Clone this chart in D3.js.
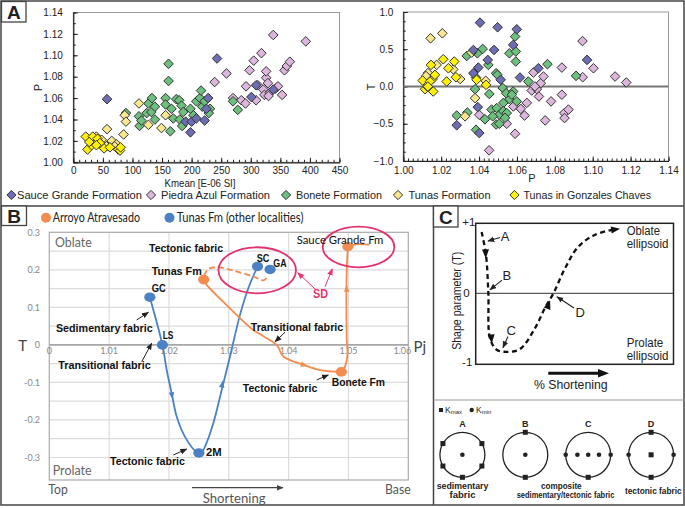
<!DOCTYPE html>
<html>
<head>
<meta charset="utf-8">
<script src="https://cdn.jsdelivr.net/npm/d3@7/dist/d3.min.js"></script>
<style>
html,body{margin:0;padding:0;background:#fff;}
svg{display:block;}
</style>
</head>
<body>
<svg id="fig" width="685" height="508"></svg>
<script>
// ================= PANEL A DATA =================
const formationNames = ["Sauce Grande Formation","Piedra Azul Formation","Bonete Formation","Tunas Formation","Tunas in Gonzales Chaves"];
const formationColors = ["#6d6db3","#dcb6dc","#6cbf7d","#f7e88f","#fff200"];
const kmeanTicks = [0,50,100,150,200,250,300,350,400,450];
const pTicks = [1.00,1.02,1.04,1.06,1.08,1.10,1.12,1.14];
const pTicksX = [1.00,1.02,1.04,1.06,1.08,1.10,1.12,1.14];
const tTicks = [-1.0,-0.5,0.0,0.5,1.0];

// Kmean [E-06 SI] vs P
const sauceKP = [[57,1.059],[243,1.097],[190,1.038],[198,1.028],[200,1.038],[208,1.041],[222,1.039],[228,1.060],[225,1.050],[309,1.072],[301,1.061],[338,1.068]];
const piedraKP = [[239,1.075],[259,1.083],[270,1.060],[284,1.058],[291,1.055],[292,1.071],[298,1.086],[305,1.095],[318,1.102],[309,1.058],[321,1.068],[323,1.063],[326,1.079],[326,1.085],[329,1.074],[332,1.065],[338,1.119],[342,1.069],[346,1.071],[353,1.063],[357,1.086],[361,1.090],[366,1.094],[393,1.113],[312,1.072],[330,1.062]];
const boneteKP = [[89,1.046],[111,1.043],[112,1.034],[115,1.039],[124,1.046],[127,1.055],[132,1.047],[133,1.060],[138,1.052],[138,1.040],[156,1.060],[156,1.054],[161,1.092],[161,1.076],[164,1.029],[166,1.050],[174,1.059],[169,1.041],[180,1.040],[179,1.058],[183,1.053],[186,1.047],[184,1.034],[198,1.050],[203,1.044],[208,1.057],[214,1.060],[216,1.067],[218,1.052],[222,1.057],[231,1.050],[229,1.046],[270,1.057],[278,1.049]];
const tunasKP = [[39,1.024],[48,1.021],[56,1.015],[65,1.020],[73,1.017],[70,1.015],[57,1.031],[85,1.026],[87,1.044],[89,1.038],[111,1.055],[127,1.035],[149,1.032],[156,1.044],[30,1.022],[43,1.019]];
const gcKP = [[21,1.024],[24,1.012],[31,1.016],[34,1.021],[33,1.024],[41,1.022],[45,1.018],[52,1.013],[62,1.014],[76,1.012],[79,1.011],[39,1.016],[27,1.019],[80,1.014]];

// P vs T
const sauceT = [[1.0405,0.857],[1.0498,0.795],[1.0599,0.768],[1.058,0.558],[1.0479,0.49],[1.037,0.49],[1.0446,0.357],[1.0396,0.254],[1.037,0.179],[1.0514,0.09],[1.0616,0.12],[1.0713,0.245],[1.097,0.357],[1.0393,-0.277],[1.0282,-0.52],[1.0401,-0.625]];
const piedraT = [[1.0453,-0.857],[1.0546,-0.50],[1.059,-0.634],[1.0581,-0.268],[1.062,-0.30],[1.064,-0.39],[1.0652,-0.22],[1.0678,-0.054],[1.0687,0.187],[1.0705,-0.036],[1.0716,-0.134],[1.0726,0.045],[1.074,0.134],[1.0749,-0.455],[1.078,-0.20],[1.0837,0.254],[1.0837,-0.11],[1.085,-0.357],[1.0851,-0.424],[1.0872,-0.31],[1.0946,0.61],[1.0947,0.125],[1.1004,0.245],[1.1118,0.134],[1.1177,0.054],[1.0401,-0.38],[1.0695,0.0]];
const boneteT = [[1.0335,0.41],[1.0391,0.446],[1.0419,0.504],[1.0384,0.12],[1.0379,-0.036],[1.0449,0.29],[1.0454,-0.1],[1.049,0.178],[1.0497,0.156],[1.0525,-0.02],[1.056,0.446],[1.059,0.67],[1.0594,0.47],[1.0594,0.335],[1.056,-0.17],[1.0543,-0.09],[1.058,-0.067],[1.0599,-0.20],[1.0573,-0.11],[1.0528,-0.22],[1.0466,-0.31],[1.0493,-0.29],[1.0507,-0.38],[1.0528,-0.33],[1.0546,-0.357],[1.0537,-0.42],[1.049,-0.51],[1.0507,-0.5],[1.0472,-0.40],[1.0431,-0.44],[1.0338,-0.35],[1.0282,-0.39],[1.0384,-0.58],[1.066,0.067],[1.0761,0.30],[1.0912,0.143]];
const tunasT = [[1.0144,0.647],[1.0206,0.714],[1.013,0.18],[1.0176,0.29],[1.0264,0.23],[1.030,0.10],[1.0326,-0.40],[1.0379,-0.156],[1.0435,0.076],[1.0361,0.455],[1.012,0.14],[1.0155,0.1]];
const gcT = [[1.0102,0.08],[1.0115,-0.036],[1.013,-0.009],[1.0141,0.067],[1.0146,0.29],[1.0167,0.156],[1.0158,-0.067],[1.0211,0.366],[1.0229,0.067],[1.0238,0.245],[1.0269,0.335],[1.0278,0.125],[1.0387,0.09],[1.0437,0.022],[1.0130,0.0]];

// ================= PANEL B DATA =================
const pjTicks = [1.00,1.01,1.02,1.03,1.04,1.05,1.06];
const pjTickLabels = ["0","1.01","1.02","1.03","1.04","1.05","1.06"];
const tbTicks = [0.3,0.2,0.1,0,-0.1,-0.2,-0.3];
const tbTickLabels = ["0.3","0.2","0.1","0","-0.1","-0.2","-0.3"];
const seriesB = ["Arroyo Atravesado","Tunas Fm (other localities)"];
const colorsB = ["#f28c4f","#4a82c3"];
const orangeSites = [[1.0258,0.174],[1.0499,0.262],[1.0488,-0.072]];
const blueSites = [[1.0168,0.127],[1.0189,0.0],[1.0250,-0.288],[1.0348,0.209],[1.0369,0.201]];
const blueCurve = [[1.0168,0.127],[1.0189,0.0],[1.01962,-0.067],[1.02045,-0.129],[1.02129,-0.191],[1.02268,-0.245],[1.02463,-0.285],[1.0255,-0.285],[1.02602,-0.271],[1.02741,-0.209],[1.02881,-0.120],[1.0302,-0.031],[1.03187,0.08],[1.03326,0.151],[1.0348,0.209]];
const orangeCurve1 = [[1.0258,0.174],[1.02631,0.160],[1.0302,0.0975],[1.0341,0.0397],[1.0380,0.0],[1.03911,-0.031],[1.04257,-0.0536],[1.04524,-0.067],[1.0488,-0.072]];
const orangeCurve2 = [[1.0488,-0.072],[1.04914,-0.067],[1.0498,-0.031],[1.0497,0.0176],[1.0497,0.195],[1.0499,0.262]];
const orangeTail = [[1.0499,0.262],[1.0513,0.268],[1.0535,0.267]];
const orangeDashed = [[1.02586,0.184],[1.02658,0.202],[1.02798,0.207],[1.03075,0.198],[1.0341,0.182],[1.03577,0.172],[1.03633,0.179]];
const blueArrows = [[[1.0203,-0.115],[1.0206,-0.145]],[[1.0287,-0.125],[1.0290,-0.095]]];
const orangeArrows = [[[1.0418,-0.05],[1.0432,-0.057]],[[1.0497,0.13],[1.0497,0.16]]];
const bLabels = [
  {text:"Tectonic fabric", x:1.02285, y:0.259, w:74, bold:true},
  {text:"Tunas Fm", x:1.0213, y:0.198, w:50, bold:true},
  {text:"GC", x:1.01829, y:0.151, w:14, bold:true},
  {text:"SC", x:1.03572, y:0.232, w:12.7, bold:true},
  {text:"GA", x:1.03856, y:0.217, w:13.3, bold:true},
  {text:"Sauce Grande Fm", x:1.04859, y:0.282, w:86.7, bold:false},
  {text:"Sedimentary fabric", x:1.00919, y:0.046, w:96.7, bold:true},
  {text:"LS", x:1.01984, y:0.026, w:10.7, bold:true},
  {text:"Transitional fabric", x:1.00923, y:-0.054, w:92.4, bold:true},
  {text:"Transitional fabric", x:1.0414, y:0.047, w:92.6, bold:true},
  {text:"Tectonic fabric", x:1.03856, y:-0.116, w:74.6, bold:true},
  {text:"Bonete Fm", x:1.05165, y:-0.098, w:53.3, bold:true},
  {text:"Tectonic fabric", x:1.01641, y:-0.309, w:75, bold:true},
  {text:"2M", x:1.02749, y:-0.286, w:15.7, bold:true}
];
const bPointers = [
  [[1.01461,0.0663],[1.01655,0.0869]],
  [[1.01544,-0.0448],[1.01711,0.0043]],
  [[1.03939,0.0336],[1.03772,0.0085]],
  [[1.04469,-0.0935],[1.04663,-0.080]],
  [[1.02073,-0.2934],[1.02296,-0.2774]]
];
const sdLabel = {text:"SD", x:1.04533, y:0.135};
const sdPointers = [[[1.04458,0.1463],[1.04152,0.1924]],[[1.04608,0.155],[1.0473,0.2022]]];
const sdEllipses = [{cx:1.03475, cy:0.1988, rx:0.00648, ry:0.0613},{cx:1.05168, cy:0.2609, rx:0.00598, ry:0.0541}];

// ================= PANEL C DATA =================
const cCurve = [[3,0.88],[5.2,0.55],[6.4,0],[7.2,-0.64],[10.6,-0.81],[15.7,-0.84],[22.4,-0.8],[30,-0.5],[35,-0.21],[39.3,0],[45.2,0.36],[51.9,0.67],[60.4,0.84],[70.5,0.92]];
const cArrows = [[[4.9,0.68],[5.1,0.50]],[[7.7,-0.56],[8.1,-0.72]],[[35.5,-0.27],[37.6,-0.10]],[[68,0.905],[73,0.925]]];
const cLabels = [
  {text:"A", x:14.8, y:0.82, from:[12.3,0.80], to:[6.2,0.75]},
  {text:"B", x:15.7, y:0.26, from:[13.3,0.19], to:[7.2,0.05]},
  {text:"C", x:17.9, y:-0.54, from:[16.3,-0.62], to:[13.8,-0.78]},
  {text:"D", x:52.8, y:-0.27, from:[49.7,-0.21], to:[41.1,-0.05]}
];
const cDiagrams = [
  {label:"A", squares:[-150,-30,30,150,90], dots:[0], centerSquare:false},
  {label:"B", squares:[-90,90], dots:[0], centerSquare:false},
  {label:"C", squares:[90], dots:[-1,-0.48,0,0.48,1], centerSquare:false},
  {label:"D", squares:[-90,90], dots:[-1,1], centerSquare:true}
];

// ================= DRAWING =================
const svg = d3.select("#fig");
const SANS = "'Liberation Sans', Arial, Helvetica, sans-serif";
const LATO = "Lato, 'Open Sans', sans-serif";

const defs = svg.append("defs");
function mk(id, color, size){
  defs.append("marker").attr("id",id).attr("viewBox","0 0 10 10").attr("refX",9).attr("refY",5)
    .attr("markerWidth",size).attr("markerHeight",size).attr("orient","auto").attr("markerUnits","userSpaceOnUse")
    .append("path").attr("d","M0,1 L10,5 L0,9 Z").attr("fill",color);
}
mk("ahBlack","#222",7);
mk("ahPink","#e8336d",7);
mk("ahGray","#444",7);

function txt(g, x, y, s, o={}){
  const t = g.append("text").attr("x",x).attr("y",y).text(s)
    .attr("font-family",o.family||SANS).attr("font-size",o.size||11)
    .attr("font-weight",o.bold?"bold":"normal").attr("fill",o.fill||"#111")
    .attr("text-anchor",o.anchor||"middle").attr("dominant-baseline","central");
  if(o.len){ t.attr("textLength",o.len).attr("lengthAdjust","spacingAndGlyphs"); }
  if(o.rotate){ t.attr("transform",`rotate(${o.rotate},${x},${y})`); }
  return t;
}
function tri(g, p1, p2, len, wid, color){
  const a = Math.atan2(p2[1]-p1[1], p2[0]-p1[0]);
  const bx = p2[0]-len*Math.cos(a), by = p2[1]-len*Math.sin(a);
  const nx = -Math.sin(a)*wid/2, ny = Math.cos(a)*wid/2;
  g.append("path").attr("d",`M${p2[0]},${p2[1]}L${bx+nx},${by+ny}L${bx-nx},${by-ny}Z`).attr("fill",color);
}
const diamond = s => `M0,${-s}L${s},0L0,${s}L${-s},0Z`;

// ---------- frames ----------
const frame = svg.append("g");
frame.append("rect").attr("x",1).attr("y",1).attr("width",683).attr("height",504).attr("fill","none").attr("stroke","#444").attr("stroke-width",1.5);
frame.append("line").attr("x1",1).attr("x2",684).attr("y1",206).attr("y2",206).attr("stroke","#444").attr("stroke-width",1.5);
frame.append("line").attr("x1",433.5).attr("x2",433.5).attr("y1",206).attr("y2",505).attr("stroke","#444").attr("stroke-width",1.5);
frame.append("line").attr("x1",433.5).attr("x2",684).attr("y1",400).attr("y2",400).attr("stroke","#999").attr("stroke-width",1);
function panelLabel(x,y,w,h,s){
  frame.append("rect").attr("x",x).attr("y",y).attr("width",w).attr("height",h).attr("fill","#fff").attr("stroke","#444").attr("stroke-width",1.3);
  txt(frame, x+w/2, y+h/2+1, s, {size:19, bold:true, fill:"#222"});
}
panelLabel(1.5,1.5,24.5,20.5,"A");
panelLabel(1.5,206,25,19.5,"B");
panelLabel(433.5,206,24.5,21,"C");

// ---------- Panel A scatters ----------
const xK = d3.scaleLinear().domain([0,450]).range([73.3,339.5]);
const yP = d3.scaleLinear().domain([1.00,1.14]).range([162.3,12.5]);
const xP = d3.scaleLinear().domain([1.00,1.14]).range([403.3,668.5]);
const yT = d3.scaleLinear().domain([-1,1]).range([161,12]);

function scatterFrame(x, y, xTicks, xMinor, xFmt, xPad, yTicks, yMinor, yFmt, yPad){
  const g = svg.append("g");
  const [x0,x1] = x.range(), [y0,y1] = y.range();
  g.append("rect").attr("x",x0).attr("y",y1).attr("width",x1-x0).attr("height",y0-y1).attr("fill","#fff").attr("stroke","#999").attr("stroke-width",1);
  const styleAxis = s => { s.attr("font-family",SANS).attr("font-size",10); s.selectAll("line").attr("stroke","#222"); s.selectAll("text").attr("fill","#222"); };
  g.append("g").attr("transform",`translate(0,${y0})`).call(d3.axisBottom(x).tickValues(xMinor).tickSize(-2.5).tickSizeOuter(0).tickFormat("")).call(s=>s.select(".domain").remove()).call(styleAxis);
  g.append("g").attr("transform",`translate(0,${y0})`).call(d3.axisBottom(x).tickValues(xTicks).tickSize(-4.5).tickSizeOuter(0).tickPadding(xPad).tickFormat(xFmt)).call(styleAxis).call(s=>s.select(".domain").attr("stroke","#222").attr("stroke-width",1.2));
  g.append("g").attr("transform",`translate(${x0},0)`).call(d3.axisLeft(y).tickValues(yMinor).tickSize(-2.5).tickSizeOuter(0).tickFormat("")).call(s=>s.select(".domain").remove()).call(styleAxis);
  g.append("g").attr("transform",`translate(${x0},0)`).call(d3.axisLeft(y).tickValues(yTicks).tickSize(-4.5).tickSizeOuter(0).tickPadding(yPad).tickFormat(yFmt)).call(styleAxis).call(s=>s.select(".domain").attr("stroke","#222").attr("stroke-width",1.2));
  return g;
}
const gL = scatterFrame(xK, yP, kmeanTicks, d3.range(0,451,10), d3.format("d"), 5,
  pTicks, d3.range(100,115).map(v=>v/100), d3.format(".2f"), 10.5);
const gR = scatterFrame(xP, yT, pTicksX, d3.range(0,57).map(v=>1+v*0.0025), d3.format(".2f"), 5.5,
  tTicks, d3.range(-8,9).map(v=>v*0.125), d3.format(".1f"), 10);
gR.append("line").attr("x1",xP.range()[0]).attr("x2",xP.range()[1]).attr("y1",yT(0)).attr("y2",yT(0)).attr("stroke","#777").attr("stroke-width",2);

txt(svg, 37.5, 87.5, "P", {size:11, rotate:-90, fill:"#222"});
txt(svg, 200, 182.5, "Kmean [E-06 SI]", {size:11, fill:"#222", len:71});
txt(svg, 370.7, 87, "T", {size:11, rotate:-90, fill:"#222"});
txt(svg, 532, 178, "P", {size:11, fill:"#222"});

const kpSets = [piedraKP, boneteKP, tunasKP, sauceKP, gcKP];
const ptSets = [piedraT, boneteT, tunasT, sauceT, gcT];
const setColor = [1,2,3,0,4];
kpSets.forEach((arr,i)=>{
  gL.append("g").selectAll("path").data(arr).join("path")
    .attr("d",diamond(4.8)).attr("transform",d=>`translate(${xK(d[0])},${yP(d[1])})`)
    .attr("fill",formationColors[setColor[i]]).attr("stroke","#333").attr("stroke-width",1);
});
ptSets.forEach((arr,i)=>{
  gR.append("g").selectAll("path").data(arr).join("path")
    .attr("d",diamond(4.8)).attr("transform",d=>`translate(${xP(d[0])},${yT(d[1])})`)
    .attr("fill",formationColors[setColor[i]]).attr("stroke","#333").attr("stroke-width",1);
});

// Legend A
const legA = svg.append("g");
const legX = [[11.5,17,125],[151,161,109],[286,296,86],[398,408.5,82],[514.5,523.5,127.5]];
formationNames.forEach((n,i)=>{
  legA.append("path").attr("d",diamond(4.6)).attr("transform",`translate(${legX[i][0]},195)`)
    .attr("fill",formationColors[i]).attr("stroke","#333").attr("stroke-width",1);
  txt(legA, legX[i][1], 195, n, {size:11.5, anchor:"start", len:legX[i][2], fill:"#222"});
});

// ---------- Panel B ----------
const gB = svg.append("g");
const xB = d3.scaleLinear().domain([1.00,1.06]).range([49.3,408.3]);
const yB = d3.scaleLinear().domain([-0.36,0.3]).range([480,232.3]);
const hGrid = d3.range(-6,6).map(v=>v*0.05);
gB.append("g").selectAll("line").data(hGrid).join("line")
  .attr("x1",xB(1.00)).attr("x2",xB(1.06)).attr("y1",d=>yB(d)).attr("y2",d=>yB(d)).attr("stroke","#dcdcdc").attr("stroke-width",1.2);
gB.append("g").selectAll("line").data(pjTicks.slice(1,6)).join("line")
  .attr("x1",d=>xB(d)).attr("x2",d=>xB(d)).attr("y1",yB(0.3)).attr("y2",yB(-0.36)).attr("stroke","#dcdcdc").attr("stroke-width",1.2);
gB.append("rect").attr("x",xB(1.00)).attr("y",yB(0.3)).attr("width",xB(1.06)-xB(1.00)).attr("height",yB(-0.36)-yB(0.3))
  .attr("fill","none").attr("stroke","#aaa").attr("stroke-width",1.2);
gB.append("line").attr("x1",xB(1.00)).attr("x2",xB(1.06)).attr("y1",yB(0)).attr("y2",yB(0)).attr("stroke","#a8a8a8").attr("stroke-width",1.8);
pjTicks.forEach((v,i)=>{
  const last = i===pjTicks.length-1;
  txt(gB, last? xB(v)+3 : xB(v), yB(0)+6, pjTickLabels[i], {size:9, family:LATO, fill:"#888", anchor: last?"end":"middle"});
});
tbTicks.forEach((v,i)=> txt(gB, 40, yB(v), tbTickLabels[i], {size:9, family:LATO, fill:"#888", anchor:"end"}));
txt(gB, 22.7, yB(0), "T", {size:15, family:LATO, fill:"#444"});
txt(gB, 413.5, yB(0)+1, "Pj", {size:15, family:LATO, fill:"#444", anchor:"start"});
txt(gB, 55, 241, "Oblate", {size:14, family:LATO, fill:"#666", anchor:"start", len:36.7});
txt(gB, 52.7, 469, "Prolate", {size:14, family:LATO, fill:"#666", anchor:"start", len:39});
txt(gB, 48.3, 488.5, "Top", {size:14, family:LATO, fill:"#555", anchor:"start", len:19.4});
txt(gB, 385, 488.5, "Base", {size:14, family:LATO, fill:"#555", anchor:"start", len:25.7});
txt(gB, 234.2, 497, "Shortening", {size:14, family:LATO, fill:"#555", len:63});
gB.append("line").attr("x1",192).attr("x2",283).attr("y1",487.7).attr("y2",487.7).attr("stroke","#444").attr("stroke-width",1.2).attr("marker-end","url(#ahGray)");

// legend B
gB.append("circle").attr("cx",46).attr("cy",217.7).attr("r",5).attr("fill",colorsB[0]);
txt(gB, 52.7, 217.7, seriesB[0], {size:12.5, family:LATO, fill:"#222", anchor:"start", len:87.3});
gB.append("circle").attr("cx",169.5).attr("cy",217.7).attr("r",5).attr("fill",colorsB[1]);
txt(gB, 176.7, 217.7, seriesB[1], {size:12.5, family:LATO, fill:"#222", anchor:"start", len:126.7});

const lineB = d3.line().x(d=>xB(d[0])).y(d=>yB(d[1])).curve(d3.curveCatmullRom.alpha(0.5));
gB.append("path").attr("d",lineB(blueCurve)).attr("fill","none").attr("stroke",colorsB[1]).attr("stroke-width",1.8);
gB.append("path").attr("d",lineB(orangeCurve1)).attr("fill","none").attr("stroke",colorsB[0]).attr("stroke-width",1.8);
gB.append("path").attr("d",lineB(orangeCurve2)).attr("fill","none").attr("stroke",colorsB[0]).attr("stroke-width",1.8);
gB.append("path").attr("d",lineB(orangeTail)).attr("fill","none").attr("stroke",colorsB[0]).attr("stroke-width",1.8);
gB.append("path").attr("d",lineB(orangeDashed)).attr("fill","none").attr("stroke",colorsB[0]).attr("stroke-width",1.8).attr("stroke-dasharray","6,3");
blueArrows.forEach(a=>tri(gB,[xB(a[0][0]),yB(a[0][1])],[xB(a[1][0]),yB(a[1][1])],7,5.5,colorsB[1]));
orangeArrows.forEach(a=>tri(gB,[xB(a[0][0]),yB(a[0][1])],[xB(a[1][0]),yB(a[1][1])],7,5.5,colorsB[0]));

// site markers
gB.append("g").selectAll("ellipse").data(blueSites).join("ellipse")
  .attr("cx",d=>xB(d[0])).attr("cy",d=>yB(d[1])).attr("rx",5.6).attr("ry",4.8).attr("fill",colorsB[1]);
gB.append("g").selectAll("ellipse").data(orangeSites).join("ellipse")
  .attr("cx",d=>xB(d[0])).attr("cy",d=>yB(d[1])).attr("rx",5.6).attr("ry",4.8).attr("fill",colorsB[0]);

// SD ellipses
sdEllipses.forEach(e=>{
  gB.append("ellipse").attr("cx",xB(e.cx)).attr("cy",yB(e.cy))
    .attr("rx",xB(e.cx+e.rx)-xB(e.cx)).attr("ry",yB(e.cy-e.ry)-yB(e.cy))
    .attr("fill","none").attr("stroke","#e3336a").attr("stroke-width",1.8);
});
sdPointers.forEach(p=>{
  gB.append("line").attr("x1",xB(p[0][0])).attr("y1",yB(p[0][1])).attr("x2",xB(p[1][0])).attr("y2",yB(p[1][1]))
    .attr("stroke","#e8336d").attr("stroke-width",1).attr("marker-end","url(#ahPink)");
});
txt(gB, xB(sdLabel.x), yB(sdLabel.y), sdLabel.text, {size:12, bold:true, fill:"#e8336d", len:15});

// labels & pointers
bLabels.forEach(l=> txt(gB, xB(l.x), yB(l.y), l.text, {size:11.5, bold:l.bold, fill:"#111", len:l.w, family: l.bold?SANS:LATO}));
bPointers.forEach(p=>{
  gB.append("line").attr("x1",xB(p[0][0])).attr("y1",yB(p[0][1])).attr("x2",xB(p[1][0])).attr("y2",yB(p[1][1]))
    .attr("stroke","#222").attr("stroke-width",1).attr("marker-end","url(#ahBlack)");
});

// ---------- Panel C ----------
const gC = svg.append("g");
const xC = d3.scaleLinear().domain([0,100]).range([475.7,673.5]);
const yC = d3.scaleLinear().domain([-1,1]).range([363,223.6]);
gC.append("rect").attr("x",475.7).attr("y",223.3).attr("width",673.5-475.7).attr("height",364.3-223.3)
  .attr("fill","none").attr("stroke","#222").attr("stroke-width",1.5);
gC.append("line").attr("x1",475.7).attr("x2",673.5).attr("y1",yC(0)).attr("y2",yC(0)).attr("stroke","#333").attr("stroke-width",1);
txt(gC, 468.8, 221.5, "+1", {size:11.5, fill:"#222"});
txt(gC, 466.5, yC(0), "0", {size:11.5, fill:"#222"});
txt(gC, 467.2, 361.7, "-1", {size:11.5, fill:"#222"});
txt(gC, 457.3, 300.8, "Shape parameter (T)", {size:12, fill:"#222", rotate:-90, len:98});
txt(gC, 626.7, 231, "Oblate", {size:12, fill:"#222", anchor:"start", len:33.3});
txt(gC, 626.7, 243.5, "ellipsoid", {size:12, fill:"#222", anchor:"start", len:41.7});
txt(gC, 626.7, 343.3, "Prolate", {size:12, fill:"#222", anchor:"start", len:36.6});
txt(gC, 626.7, 355.8, "ellipsoid", {size:12, fill:"#222", anchor:"start", len:41.7});
txt(gC, 570.8, 384.5, "% Shortening", {size:12, fill:"#222", len:73.7});
gC.append("line").attr("x1",548.3).attr("x2",600).attr("y1",373.3).attr("y2",373.3).attr("stroke","#111").attr("stroke-width",3);
tri(gC,[590,373.3],[609,373.3],11,8.5,"#111");

const lineC = d3.line().x(d=>xC(d[0])).y(d=>yC(d[1])).curve(d3.curveCatmullRom.alpha(0.5));
gC.append("path").attr("d",lineC(cCurve)).attr("fill","none").attr("stroke","#111").attr("stroke-width",2.3).attr("stroke-dasharray","5,3.5");
cArrows.forEach(a=>tri(gC,[xC(a[0][0]),yC(a[0][1])],[xC(a[1][0]),yC(a[1][1])],9,7,"#111"));
cLabels.forEach(l=>{
  txt(gC, xC(l.x), yC(l.y), l.text, {size:13, fill:"#222"});
  gC.append("line").attr("x1",xC(l.from[0])).attr("y1",yC(l.from[1])).attr("x2",xC(l.to[0])).attr("y2",yC(l.to[1]))
    .attr("stroke","#222").attr("stroke-width",1.1).attr("marker-end","url(#ahBlack)");
});

// bottom diagrams
const gD = svg.append("g");
gD.append("rect").attr("x",439).attr("y",408).attr("width",4).attr("height",4).attr("fill","#222");
gD.append("text").attr("x",445).attr("y",413).attr("font-family",SANS).attr("font-size",8.5).attr("fill","#222")
  .call(t=>{t.append("tspan").text("K");t.append("tspan").attr("font-size",6).attr("dy",1).text("max");});
gD.append("circle").attr("cx",471.7).attr("cy",410).attr("r",2.2).attr("fill","#222");
gD.append("text").attr("x",476).attr("y",413).attr("font-family",SANS).attr("font-size",8.5).attr("fill","#222")
  .call(t=>{t.append("tspan").text("K");t.append("tspan").attr("font-size",6).attr("dy",1).text("min");});
const dX = d3.scalePoint().domain(cDiagrams.map(d=>d.label)).range([462.4,651.1]);
const dY = 454.8, dR = 22.5;
cDiagrams.forEach(d=>{
  const cx = dX(d.label);
  gD.append("circle").attr("cx",cx).attr("cy",dY).attr("r",dR).attr("fill","none").attr("stroke","#222").attr("stroke-width",1.3);
  txt(gD, cx, 423.8, d.label, {size:9, bold:true, fill:"#222"});
  d.squares.forEach(a=>{
    const r = a*Math.PI/180;
    gD.append("rect").attr("x",cx+dR*Math.cos(r)-2.5).attr("y",dY+dR*Math.sin(r)-2.5).attr("width",5).attr("height",5).attr("fill","#222");
  });
  d.dots.forEach(o=> gD.append("circle").attr("cx",cx+o*dR).attr("cy",dY).attr("r",2.3).attr("fill","#222"));
  if(d.centerSquare) gD.append("rect").attr("x",cx-2.5).attr("y",dY-2.5).attr("width",5).attr("height",5).attr("fill","#222");
});
txt(gD, 462.5, 486, "sedimentary", {size:9, bold:true, fill:"#222", len:51.7});
txt(gD, 462.5, 494.6, "fabric", {size:9, bold:true, fill:"#222", len:26});
txt(gD, 561.3, 485.5, "composite", {size:9, bold:true, fill:"#222", len:40.7});
txt(gD, 565.5, 494.6, "sedimentary/tectonic fabric", {size:9, bold:true, fill:"#222", len:97.7});
txt(gD, 653.3, 490.5, "tectonic fabric", {size:9, bold:true, fill:"#222", len:56.7});
</script>
</body>
</html>
